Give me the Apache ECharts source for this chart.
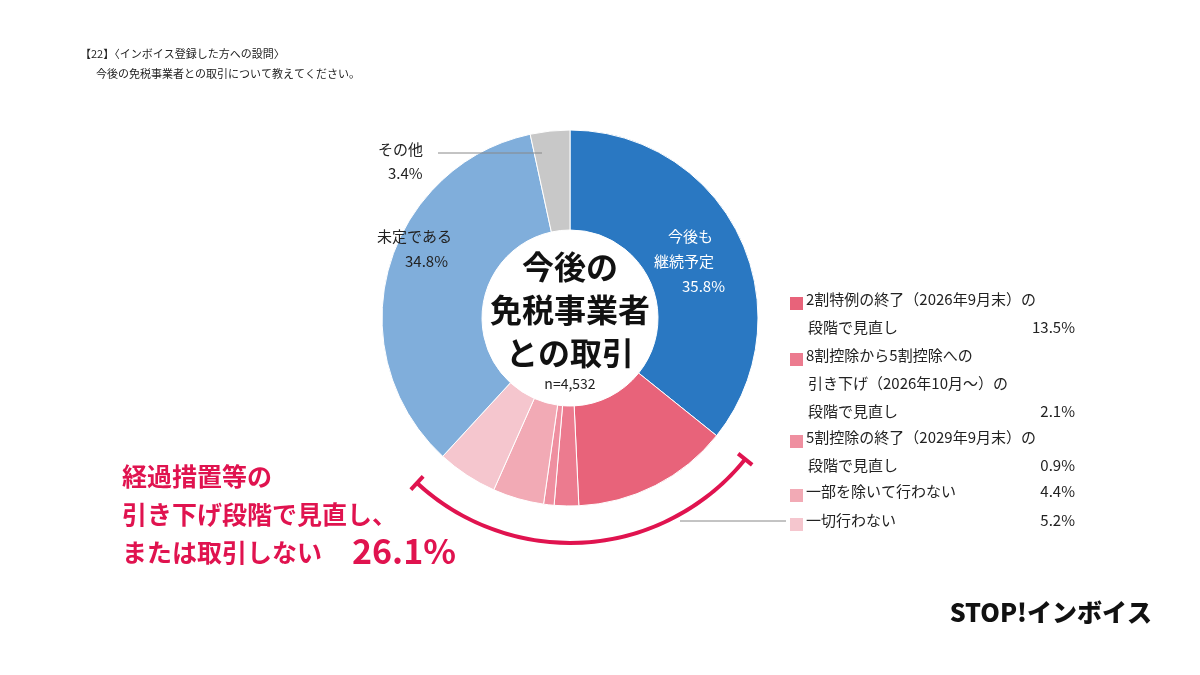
<!DOCTYPE html>
<html><head><meta charset="utf-8">
<script src="https://cdn.jsdelivr.net/npm/echarts@6/dist/echarts.min.js"></script>
<style>html,body{margin:0;background:#fff}#c{width:1200px;height:675px}</style>
</head><body><div id="c"></div>
<script>
let names = ["今後も継続予定", "2割特例の終了（2026年9月末）の段階で見直し", "8割控除から5割控除への引き下げ（2026年10月～）の段階で見直し", "5割控除の終了（2029年9月末）の段階で見直し", "一部を除いて行わない", "一切行わない", "未定である", "その他"];
let values = [35.8, 13.5, 2.1, 0.9, 4.4, 5.2, 34.8, 3.4];
let colors = ["#2a78c2", "#e8637a", "#ec7b8f", "#ef8fa0", "#f2aab5", "#f5c6ce", "#80aedb", "#c8c8c8"];
let bracketValues = [35.8, 26.1, 38.1];
let font = "'Noto Sans CJK JP', sans-serif";
let chart = echarts.init(document.getElementById("c"));
let cx = 570, cy = 318;

let legendRows = [
  { y: 292, lines: ["2割特例の終了（2026年9月末）の", "段階で見直し"], v: "13.5%", c: colors[1] },
  { y: 348, lines: ["8割控除から5割控除への", "引き下げ（2026年10月～）の", "段階で見直し"], v: "2.1%", c: colors[2] },
  { y: 430, lines: ["5割控除の終了（2029年9月末）の", "段階で見直し"], v: "0.9%", c: colors[3] },
  { y: 484, lines: ["一部を除いて行わない"], v: "4.4%", c: colors[4] },
  { y: 513, lines: ["一切行わない"], v: "5.2%", c: colors[5] },
];
let graphics = [];
let txt = (x, y, t, o) => graphics.push({ type: "text", x: x, y: y, z: 100, style: Object.assign({ text: t, font: "14px " + font, fill: "#222", align: "left", verticalAlign: "top" }, o || {}) });
legendRows.forEach((r) => {
  graphics.push({ type: "rect", z: 100, shape: { x: 790, y: r.y + 5, width: 13, height: 13 }, style: { fill: r.c } });
  r.lines.forEach((l, i) => txt(i === 0 ? 806 : 808, r.y + i * 28, l, { font: "15px " + font }));
  txt(1075, r.y + (r.lines.length - 1) * 28, r.v, { font: "15px " + font, align: "right" });
});
txt(80, 48, "【22】〈インボイス登録した方への設問〉", { font: "11px " + font });
txt(96, 68, "今後の免税事業者との取引について教えてください。", { font: "11px " + font });
txt(378, 142, "その他", { font: "15px " + font });
txt(388, 166, "3.4%", { font: "15px " + font });
graphics.push({ type: "line", z: 100, shape: { x1: 438, y1: 153, x2: 542, y2: 153 }, style: { stroke: "#888", lineWidth: 1 } });
txt(377, 229, "未定である", { font: "15px " + font });
txt(405, 254, "34.8%", { font: "15px " + font });
txt(668, 229, "今後も", { font: "15px " + font, fill: "#fff" });
txt(654, 254, "継続予定", { font: "15px " + font, fill: "#fff" });
txt(682, 279, "35.8%", { font: "15px " + font, fill: "#fff" });
txt(cx, 245, "今後の\n免税事業者\nとの取引", { font: "bold 32px " + font, fill: "#111", align: "center", lineHeight: 43 });
txt(cx, 377, "n=4,532", { font: "14px " + font, align: "center" });
graphics.push({ type: "line", z: 100, shape: { x1: 680, y1: 521, x2: 786, y2: 521 }, style: { stroke: "#888", lineWidth: 1 } });
txt(122, 464, "経過措置等の", { font: "bold 25px " + font, fill: "#e0134f" });
txt(122, 502, "引き下げ段階で見直し、", { font: "bold 25px " + font, fill: "#e0134f" });
txt(122, 540, "または取引しない", { font: "bold 25px " + font, fill: "#e0134f" });
txt(352, 534, "26.1%", { font: "bold 34px " + font, fill: "#e0134f" });
txt(1152, 600, "STOP!インボイス", { font: "900 25px " + font, fill: "#111", align: "right" });

// bracket end caps at the ends of the 26.1% arc
let total = bracketValues.reduce((a, b) => a + b, 0);
[bracketValues[0], bracketValues[0] + bracketValues[1]].forEach((v) => {
  let a = (v / total) * 2 * Math.PI;
  let s = Math.sin(a), c = -Math.cos(a);
  graphics.push({ type: "line", z: 100, shape: { x1: cx + s * 216, y1: cy + c * 216, x2: cx + s * 234, y2: cy + c * 234 }, style: { stroke: "#e0134f", lineWidth: 4 } });
});

chart.setOption({
  animation: false,
  graphic: graphics,
  series: [
    {
      type: "pie",
      center: [cx, cy],
      radius: [88, 188],
      startAngle: 90,
      clockwise: true,
      label: { show: false },
      itemStyle: { borderColor: "#fff", borderWidth: 1 },
      data: values.map((v, i) => ({ name: names[i], value: v, itemStyle: { color: colors[i] } })),
    },
    {
      type: "pie",
      center: [cx, cy],
      radius: [223, 227],
      startAngle: 90,
      silent: true,
      label: { show: false },
      data: bracketValues.map((v, i) => ({ value: v, itemStyle: { color: i === 1 ? "#e0134f" : "transparent" } })),
    },
  ],
});
</script></body></html>
